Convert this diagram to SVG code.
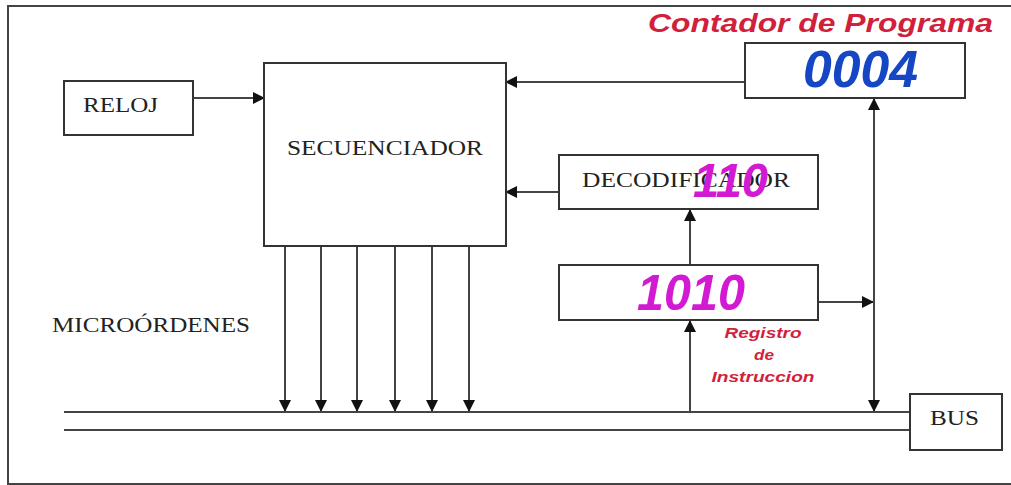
<svg xmlns="http://www.w3.org/2000/svg" width="1011" height="485" viewBox="0 0 1011 485">
  <defs>
    <marker id="arrow" markerUnits="userSpaceOnUse" markerWidth="12" markerHeight="12" viewBox="0 0 12 12" refX="11" refY="6" orient="auto">
      <path d="M0,0 L12,6 L0,12 z" fill="#111"/>
    </marker>
    <style>
      .box { fill: #fff; stroke: #333; stroke-width: 2; }
      .line { fill: none; stroke: #444; stroke-width: 2; }
      .arr { fill: none; stroke: #444; stroke-width: 2; marker-end: url(#arrow); }
      .serif { font-family: "Liberation Serif", "DejaVu Serif", serif; font-size: 22px; fill: #222; }
      .num { font-family: "Liberation Sans", Arial, sans-serif; font-weight: bold; font-style: italic; }
      .red { font-family: "Liberation Sans", Arial, sans-serif; font-weight: bold; font-style: italic; fill: #d21f3c; }
    </style>
  </defs>

  <rect width="1011" height="485" fill="#fff"/>
  <!-- outer frame -->
  <rect x="8" y="6" width="1010" height="478" fill="none" stroke="#444" stroke-width="2"/>

  <!-- connectors -->
  <g id="connectors">
    <line class="arr" x1="193" y1="98" x2="264" y2="98"/>
    <line class="arr" x1="745" y1="82" x2="506" y2="82"/>
    <line class="arr" x1="559" y1="192" x2="506" y2="192"/>
    <line class="arr" x1="690" y1="265" x2="690" y2="210"/>
    <line class="arr" x1="690" y1="412" x2="690" y2="321"/>
    <line class="arr" x1="818" y1="302" x2="873" y2="302"/>
    <line class="arr" x1="874" y1="250" x2="874" y2="99"/>
    <line class="arr" x1="874" y1="250" x2="874" y2="411"/>
    <!-- micro-order lines -->
    <line class="arr" x1="285" y1="246" x2="285" y2="411"/>
    <line class="arr" x1="321" y1="246" x2="321" y2="411"/>
    <line class="arr" x1="357" y1="246" x2="357" y2="411"/>
    <line class="arr" x1="395" y1="246" x2="395" y2="411"/>
    <line class="arr" x1="432" y1="246" x2="432" y2="411"/>
    <line class="arr" x1="469" y1="246" x2="469" y2="411"/>
    <!-- bus lines -->
    <line class="line" x1="64" y1="412" x2="910" y2="412"/>
    <line class="line" x1="64" y1="430" x2="910" y2="430"/>
  </g>

  <g id="reloj">
    <rect class="box" x="64" y="81" width="129" height="54"/>
    <text class="serif" x="83" y="112" textLength="75" lengthAdjust="spacingAndGlyphs">RELOJ</text>
  </g>

  <g id="secuenciador">
    <rect class="box" x="264" y="63" width="242" height="183"/>
    <text class="serif" x="287" y="155" textLength="196" lengthAdjust="spacingAndGlyphs">SECUENCIADOR</text>
  </g>

  <g id="contador">
    <text class="red" x="648" y="32" font-size="26" textLength="345" lengthAdjust="spacingAndGlyphs">Contador de Programa</text>
    <rect class="box" x="745" y="43" width="220" height="55"/>
    <text class="num" x="803" y="87" font-size="51" fill="#1546c4" textLength="115" lengthAdjust="spacingAndGlyphs">0004</text>
  </g>

  <g id="decodificador">
    <rect class="box" x="559" y="155" width="259" height="54"/>
    <text class="serif" x="582" y="187" textLength="208" lengthAdjust="spacingAndGlyphs">DECODIFICADOR</text>
    <text class="num" x="693" y="197" font-size="48" fill="#d21ad2" textLength="75" lengthAdjust="spacingAndGlyphs">110</text>
  </g>

  <g id="registro">
    <rect class="box" x="559" y="265" width="259" height="55"/>
    <text class="num" x="637" y="310" font-size="50" fill="#d21ad2" textLength="108" lengthAdjust="spacingAndGlyphs">1010</text>
    <text class="red" x="763" y="338" font-size="14" text-anchor="middle" textLength="77" lengthAdjust="spacingAndGlyphs">Registro</text>
    <text class="red" x="764" y="360" font-size="14" text-anchor="middle" textLength="20" lengthAdjust="spacingAndGlyphs">de</text>
    <text class="red" x="763" y="382" font-size="14" text-anchor="middle" textLength="103" lengthAdjust="spacingAndGlyphs">Instruccion</text>
  </g>

  <g id="microordenes">
    <text class="serif" x="52" y="332" textLength="198" lengthAdjust="spacingAndGlyphs">MICROÓRDENES</text>
  </g>

  <g id="bus">
    <rect class="box" x="910" y="394" width="92" height="56"/>
    <text class="serif" x="930" y="425" textLength="49" lengthAdjust="spacingAndGlyphs">BUS</text>
  </g>
</svg>
